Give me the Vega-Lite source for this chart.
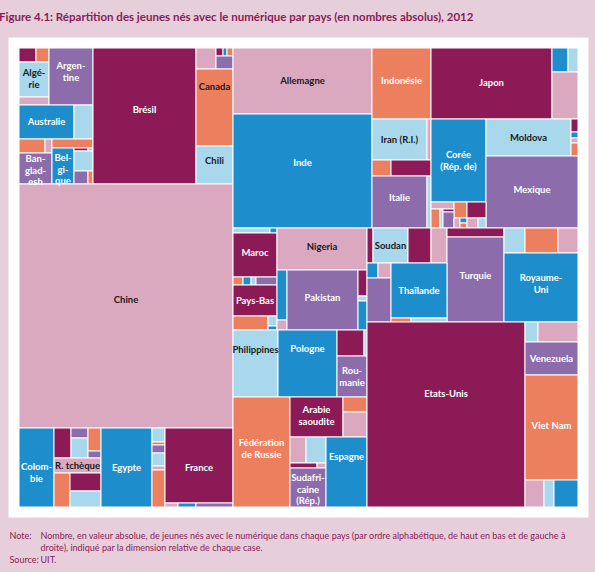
{
  "$schema": "https://vega.github.io/schema/vega-lite/v6.json",
  "width": 559,
  "height": 459,
  "autosize": {"type": "none"},
  "padding": {"left": 19, "top": 48, "right": 17, "bottom": 65},
  "background": "#e6cfdb",
  "view": {"fill": "white", "stroke": "white", "strokeWidth": 21},
  "title": {
    "text": "Figure 4.1: Répartition des jeunes nés avec le numérique par pays (en nombres absolus), 2012",
    "anchor": "start",
    "dx": -10,
    "offset": 24,
    "font": "Lato",
    "fontSize": 11.5,
    "fontWeight": "bold",
    "color": "#8b1a56"
  },
  "config": {
    "axis": {"domain": false, "ticks": false, "labels": false, "grid": false,
      "titleFont": "Lato", "titleFontSize": 9, "titleFontWeight": "normal", "titleColor": "#8b1a56",
      "titleAngle": 0, "titleAlign": "left", "titleBaseline": "alphabetic", "titleLineHeight": 12}
  },
  "data": {"values": [
    {"pays":"Autre","teinte":"M","x0":19,"x1":36,"y0":48,"y1":62,"label":""},
    {"pays":"Autre","teinte":"O","x0":36,"x1":49,"y0":48,"y1":62,"label":""},
    {"pays":"Algérie","teinte":"LB","x0":19,"x1":49,"y0":62,"y1":97,"label":"Algé-\nrie","ly":73},
    {"pays":"Autre","teinte":"LP","x0":19,"x1":49,"y0":97,"y1":105,"label":""},
    {"pays":"Argentine","teinte":"P","x0":49,"x1":93,"y0":48,"y1":105,"label":"Argen-\ntine","ly":66},
    {"pays":"Australie","teinte":"B","x0":19,"x1":74,"y0":105,"y1":139,"label":"Australie"},
    {"pays":"Autre","teinte":"LB","x0":74,"x1":93,"y0":105,"y1":139,"label":""},
    {"pays":"Autre","teinte":"O","x0":19,"x1":45,"y0":139,"y1":153,"label":""},
    {"pays":"Autre","teinte":"LP","x0":45,"x1":52,"y0":139,"y1":153,"label":""},
    {"pays":"Autre","teinte":"O","x0":52,"x1":93,"y0":139,"y1":148,"label":""},
    {"pays":"Bangladesh","teinte":"P","x0":19,"x1":52,"y0":153,"y1":184,"label":"Ban-\nglad-\nesh","ly":159},
    {"pays":"Belgique","teinte":"B","x0":52,"x1":74,"y0":148,"y1":184,"label":"Bel-\ngi-\nque","ly":158},
    {"pays":"Autre","teinte":"M","x0":74,"x1":88,"y0":148,"y1":151,"label":""},
    {"pays":"Autre","teinte":"LP","x0":88,"x1":93,"y0":148,"y1":151,"label":""},
    {"pays":"Autre","teinte":"LB","x0":74,"x1":93,"y0":151,"y1":171,"label":""},
    {"pays":"Autre","teinte":"P","x0":74,"x1":88,"y0":171,"y1":184,"label":""},
    {"pays":"Autre","teinte":"O","x0":88,"x1":93,"y0":171,"y1":184,"label":""},
    {"pays":"Brésil","teinte":"M","x0":93,"x1":196,"y0":48,"y1":184,"label":"Brésil","ly":110},
    {"pays":"Autre","teinte":"LP","x0":196,"x1":216,"y0":48,"y1":69,"label":""},
    {"pays":"Autre","teinte":"M","x0":216,"x1":223,"y0":48,"y1":56,"label":""},
    {"pays":"Autre","teinte":"B","x0":223,"x1":227,"y0":48,"y1":56,"label":""},
    {"pays":"Autre","teinte":"O","x0":227,"x1":233,"y0":48,"y1":56,"label":""},
    {"pays":"Autre","teinte":"P","x0":216,"x1":233,"y0":56,"y1":69,"label":""},
    {"pays":"Canada","teinte":"O","x0":196,"x1":233,"y0":69,"y1":146,"label":"Canada","ly":87},
    {"pays":"Chili","teinte":"LB","x0":196,"x1":233,"y0":146,"y1":184,"label":"Chili","ly":161},
    {"pays":"Chine","teinte":"LP","x0":19,"x1":233,"y0":184,"y1":428,"label":"Chine","ly":300},
    {"pays":"Colombie","teinte":"B","x0":19,"x1":54,"y0":428,"y1":507,"label":"Colom-\nbie","ly":467},
    {"pays":"Autre","teinte":"M","x0":54,"x1":71,"y0":428,"y1":458,"label":""},
    {"pays":"Autre","teinte":"P","x0":71,"x1":88,"y0":428,"y1":438,"label":""},
    {"pays":"Autre","teinte":"LB","x0":71,"x1":88,"y0":438,"y1":458,"label":""},
    {"pays":"Autre","teinte":"O","x0":88,"x1":101,"y0":428,"y1":451,"label":""},
    {"pays":"Autre","teinte":"P","x0":88,"x1":101,"y0":451,"y1":458,"label":""},
    {"pays":"R. tchèque","teinte":"LP","x0":54,"x1":101,"y0":458,"y1":473,"label":"R. tchèque"},
    {"pays":"Autre","teinte":"O","x0":54,"x1":70,"y0":473,"y1":507,"label":""},
    {"pays":"Autre","teinte":"M","x0":70,"x1":101,"y0":473,"y1":491,"label":""},
    {"pays":"Autre","teinte":"LB","x0":70,"x1":101,"y0":491,"y1":507,"label":""},
    {"pays":"Egypte","teinte":"B","x0":101,"x1":152,"y0":428,"y1":507,"label":"Egypte"},
    {"pays":"Autre","teinte":"LB","x0":152,"x1":165,"y0":428,"y1":442,"label":""},
    {"pays":"Autre","teinte":"O","x0":152,"x1":165,"y0":442,"y1":445,"label":""},
    {"pays":"Autre","teinte":"P","x0":152,"x1":165,"y0":445,"y1":453,"label":""},
    {"pays":"Autre","teinte":"LB","x0":152,"x1":165,"y0":453,"y1":466,"label":""},
    {"pays":"Autre","teinte":"LP","x0":152,"x1":165,"y0":466,"y1":470,"label":""},
    {"pays":"Autre","teinte":"O","x0":152,"x1":165,"y0":470,"y1":507,"label":""},
    {"pays":"France","teinte":"M","x0":165,"x1":233,"y0":428,"y1":503,"label":"France","ly":468},
    {"pays":"Autre","teinte":"LP","x0":165,"x1":178,"y0":503,"y1":507,"label":""},
    {"pays":"Autre","teinte":"B","x0":178,"x1":196,"y0":503,"y1":507,"label":""},
    {"pays":"Autre","teinte":"P","x0":196,"x1":233,"y0":503,"y1":507,"label":""},
    {"pays":"Allemagne","teinte":"LP","x0":233,"x1":372,"y0":48,"y1":114,"label":"Allemagne"},
    {"pays":"Inde","teinte":"B","x0":233,"x1":372,"y0":114,"y1":228,"label":"Inde","ly":163},
    {"pays":"Autre","teinte":"LB","x0":233,"x1":270,"y0":228,"y1":233,"label":""},
    {"pays":"Autre","teinte":"B","x0":270,"x1":277,"y0":228,"y1":233,"label":""},
    {"pays":"Maroc","teinte":"M","x0":233,"x1":277,"y0":233,"y1":277,"label":"Maroc","ly":253},
    {"pays":"Autre","teinte":"O","x0":233,"x1":243,"y0":277,"y1":285,"label":""},
    {"pays":"Autre","teinte":"B","x0":243,"x1":251,"y0":277,"y1":285,"label":""},
    {"pays":"Autre","teinte":"LB","x0":251,"x1":256,"y0":277,"y1":285,"label":""},
    {"pays":"Autre","teinte":"P","x0":256,"x1":277,"y0":277,"y1":285,"label":""},
    {"pays":"Pays-Bas","teinte":"M","x0":233,"x1":277,"y0":285,"y1":316,"label":"Pays-Bas"},
    {"pays":"Autre","teinte":"O","x0":233,"x1":268,"y0":316,"y1":330,"label":""},
    {"pays":"Autre","teinte":"LB","x0":268,"x1":277,"y0":316,"y1":326,"label":""},
    {"pays":"Autre","teinte":"B","x0":268,"x1":277,"y0":326,"y1":330,"label":""},
    {"pays":"Philippines","teinte":"LB","x0":233,"x1":278,"y0":330,"y1":397,"label":"Philippines","ly":350},
    {"pays":"Nigeria","teinte":"LP","x0":277,"x1":367,"y0":228,"y1":270,"label":"Nigeria","ly":247},
    {"pays":"Autre","teinte":"B","x0":277,"x1":287,"y0":270,"y1":320,"label":""},
    {"pays":"Autre","teinte":"LP","x0":277,"x1":287,"y0":320,"y1":330,"label":""},
    {"pays":"Pakistan","teinte":"P","x0":287,"x1":358,"y0":270,"y1":330,"label":"Pakistan","ly":298},
    {"pays":"Autre","teinte":"M","x0":358,"x1":367,"y0":270,"y1":296,"label":""},
    {"pays":"Autre","teinte":"LB","x0":358,"x1":367,"y0":296,"y1":301,"label":""},
    {"pays":"Autre","teinte":"B","x0":358,"x1":367,"y0":301,"y1":330,"label":""},
    {"pays":"Pologne","teinte":"B","x0":278,"x1":337,"y0":330,"y1":397,"label":"Pologne","ly":349},
    {"pays":"Autre","teinte":"M","x0":337,"x1":364,"y0":330,"y1":356,"label":""},
    {"pays":"Autre","teinte":"LB","x0":364,"x1":367,"y0":330,"y1":356,"label":""},
    {"pays":"Roumanie","teinte":"P","x0":337,"x1":367,"y0":356,"y1":397,"label":"Rou-\nmanie","ly":371},
    {"pays":"Fédération de Russie","teinte":"O","x0":233,"x1":290,"y0":397,"y1":507,"label":"Fédération\nde Russie","ly":443},
    {"pays":"Arabie saoudite","teinte":"M","x0":290,"x1":343,"y0":397,"y1":437,"label":"Arabie\nsaoudite","ly":410},
    {"pays":"Autre","teinte":"O","x0":343,"x1":367,"y0":397,"y1":412,"label":""},
    {"pays":"Autre","teinte":"LP","x0":343,"x1":367,"y0":412,"y1":437,"label":""},
    {"pays":"Autre","teinte":"LP","x0":290,"x1":306,"y0":437,"y1":463,"label":""},
    {"pays":"Autre","teinte":"LB","x0":306,"x1":326,"y0":437,"y1":463,"label":""},
    {"pays":"Autre","teinte":"M","x0":290,"x1":317,"y0":463,"y1":468,"label":""},
    {"pays":"Autre","teinte":"LP","x0":317,"x1":326,"y0":463,"y1":468,"label":""},
    {"pays":"Sudafricaine (Rép.)","teinte":"P","x0":290,"x1":326,"y0":468,"y1":507,"label":"Sudafri-\ncaine\n(Rép.)","ly":478},
    {"pays":"Espagne","teinte":"B","x0":326,"x1":367,"y0":437,"y1":507,"label":"Espagne","ly":457},
    {"pays":"Indonésie","teinte":"O","x0":372,"x1":431,"y0":48,"y1":119,"label":"Indonésie","ly":81},
    {"pays":"Japon","teinte":"M","x0":431,"x1":552,"y0":48,"y1":119,"label":"Japon","ly":83},
    {"pays":"Autre","teinte":"B","x0":552,"x1":568,"y0":48,"y1":72,"label":""},
    {"pays":"Autre","teinte":"LB","x0":568,"x1":578,"y0":48,"y1":72,"label":""},
    {"pays":"Autre","teinte":"LP","x0":552,"x1":578,"y0":72,"y1":119,"label":""},
    {"pays":"Iran (R.I.)","teinte":"LB","x0":372,"x1":427,"y0":119,"y1":160,"label":"Iran (R.I.)"},
    {"pays":"Autre","teinte":"LP","x0":427,"x1":431,"y0":119,"y1":160,"label":""},
    {"pays":"Autre","teinte":"O","x0":372,"x1":391,"y0":160,"y1":176,"label":""},
    {"pays":"Autre","teinte":"M","x0":391,"x1":431,"y0":160,"y1":176,"label":""},
    {"pays":"Italie","teinte":"P","x0":372,"x1":427,"y0":176,"y1":228,"label":"Italie","ly":198},
    {"pays":"Autre","teinte":"LB","x0":427,"x1":431,"y0":176,"y1":228,"label":""},
    {"pays":"Corée (Rép. de)","teinte":"B","x0":431,"x1":486,"y0":119,"y1":202,"label":"Corée\n(Rép. de)","ly":155},
    {"pays":"Moldova","teinte":"LB","x0":486,"x1":571,"y0":119,"y1":156,"label":"Moldova","ly":138},
    {"pays":"Autre","teinte":"M","x0":571,"x1":578,"y0":119,"y1":132,"label":""},
    {"pays":"Autre","teinte":"B","x0":571,"x1":578,"y0":132,"y1":138,"label":""},
    {"pays":"Autre","teinte":"LP","x0":571,"x1":578,"y0":138,"y1":143,"label":""},
    {"pays":"Autre","teinte":"O","x0":571,"x1":578,"y0":143,"y1":156,"label":""},
    {"pays":"Mexique","teinte":"P","x0":486,"x1":578,"y0":156,"y1":228,"label":"Mexique","ly":190},
    {"pays":"Autre","teinte":"LP","x0":431,"x1":454,"y0":202,"y1":209,"label":""},
    {"pays":"Autre","teinte":"O","x0":454,"x1":467,"y0":202,"y1":218,"label":""},
    {"pays":"Autre","teinte":"M","x0":467,"x1":486,"y0":202,"y1":218,"label":""},
    {"pays":"Autre","teinte":"O","x0":431,"x1":440,"y0":209,"y1":228,"label":""},
    {"pays":"Autre","teinte":"LB","x0":440,"x1":443,"y0":209,"y1":228,"label":""},
    {"pays":"Autre","teinte":"M","x0":443,"x1":454,"y0":209,"y1":212,"label":""},
    {"pays":"Autre","teinte":"P","x0":443,"x1":454,"y0":212,"y1":228,"label":""},
    {"pays":"Autre","teinte":"LP","x0":454,"x1":460,"y0":218,"y1":228,"label":""},
    {"pays":"Autre","teinte":"B","x0":460,"x1":467,"y0":218,"y1":223,"label":""},
    {"pays":"Autre","teinte":"O","x0":460,"x1":467,"y0":223,"y1":228,"label":""},
    {"pays":"Autre","teinte":"LP","x0":467,"x1":478,"y0":218,"y1":228,"label":""},
    {"pays":"Autre","teinte":"LB","x0":478,"x1":486,"y0":218,"y1":228,"label":""},
    {"pays":"Autre","teinte":"M","x0":367,"x1":373,"y0":228,"y1":263,"label":""},
    {"pays":"Soudan","teinte":"LB","x0":373,"x1":408,"y0":228,"y1":263,"label":"Soudan"},
    {"pays":"Autre","teinte":"M","x0":408,"x1":431,"y0":228,"y1":263,"label":""},
    {"pays":"Autre","teinte":"LP","x0":431,"x1":447,"y0":228,"y1":263,"label":""},
    {"pays":"Autre","teinte":"M","x0":447,"x1":504,"y0":228,"y1":237,"label":""},
    {"pays":"Turquie","teinte":"P","x0":447,"x1":504,"y0":237,"y1":322,"label":"Turquie","ly":276},
    {"pays":"Autre","teinte":"LB","x0":504,"x1":525,"y0":228,"y1":253,"label":""},
    {"pays":"Autre","teinte":"O","x0":525,"x1":558,"y0":228,"y1":253,"label":""},
    {"pays":"Autre","teinte":"LP","x0":558,"x1":578,"y0":228,"y1":253,"label":""},
    {"pays":"Royaume-Uni","teinte":"B","x0":504,"x1":578,"y0":253,"y1":322,"label":"Royaume-\nUni","ly":278},
    {"pays":"Autre","teinte":"B","x0":367,"x1":378,"y0":263,"y1":278,"label":""},
    {"pays":"Autre","teinte":"LP","x0":378,"x1":391,"y0":263,"y1":278,"label":""},
    {"pays":"Autre","teinte":"P","x0":367,"x1":391,"y0":278,"y1":322,"label":""},
    {"pays":"Thaïlande","teinte":"B","x0":391,"x1":447,"y0":263,"y1":318,"label":"Thaïlande"},
    {"pays":"Autre","teinte":"O","x0":391,"x1":411,"y0":318,"y1":322,"label":""},
    {"pays":"Autre","teinte":"LB","x0":411,"x1":447,"y0":318,"y1":322,"label":""},
    {"pays":"Etats-Unis","teinte":"M","x0":367,"x1":525,"y0":322,"y1":507,"label":"Etats-Unis","ly":394},
    {"pays":"Autre","teinte":"LB","x0":525,"x1":538,"y0":322,"y1":342,"label":""},
    {"pays":"Autre","teinte":"LP","x0":538,"x1":578,"y0":322,"y1":342,"label":""},
    {"pays":"Venezuela","teinte":"P","x0":525,"x1":578,"y0":342,"y1":375,"label":"Venezuela"},
    {"pays":"Viet Nam","teinte":"O","x0":525,"x1":578,"y0":375,"y1":480,"label":"Viet Nam","ly":426},
    {"pays":"Autre","teinte":"LP","x0":525,"x1":544,"y0":480,"y1":507,"label":""},
    {"pays":"Autre","teinte":"LB","x0":544,"x1":554,"y0":480,"y1":507,"label":""},
    {"pays":"Autre","teinte":"B","x0":554,"x1":578,"y0":480,"y1":507,"label":""}
  ]},
  "layer": [
    {
      "mark": {"type": "rect", "stroke": "white", "strokeWidth": 1},
      "encoding": {
        "x": {"field": "x0", "type": "quantitative",
          "scale": {"domain": [19, 578], "nice": false, "zero": false},
          "axis": {"title": ["Nombre, en valeur absolue, de jeunes nés avec le numérique dans chaque pays (par ordre alphabétique, de haut en bas et de gauche à", "droite), indiqué par la dimension relative de chaque case.", "UIT."],
            "titleX": 21, "titleY": 31}},
        "x2": {"field": "x1"},
        "y": {"field": "y0", "type": "quantitative",
          "scale": {"domain": [48, 507], "nice": false, "zero": false, "reverse": true},
          "axis": {"title": ["Note:", "Source:"], "titleX": -10, "titleY": 490, "titleLineHeight": 24}},
        "y2": {"field": "y1"},
        "color": {"field": "teinte", "type": "nominal", "legend": null,
          "scale": {"domain": ["M", "O", "LB", "B", "P", "LP"],
            "range": ["#8b1a56", "#ec7f5e", "#a9d8ec", "#1d8dcb", "#8c6cab", "#dba9bf"]}}
      }
    },
    {
      "transform": [
        {"filter": "datum.label != ''"},
        {"calculate": "(datum.x0 + datum.x1) / 2", "as": "cx"},
        {"calculate": "isValid(datum.ly) ? datum.ly : (datum.y0 + datum.y1) / 2", "as": "cy"}
      ],
      "mark": {"type": "text", "font": "Lato", "fontSize": 9.5, "fontWeight": "bold", "lineBreak": "\n", "lineHeight": 11.5, "align": "center", "baseline": "middle"},
      "encoding": {
        "x": {"field": "cx", "type": "quantitative",
          "axis": {"title": ["Nombre, en valeur absolue, de jeunes nés avec le numérique dans chaque pays (par ordre alphabétique, de haut en bas et de gauche à", "droite), indiqué par la dimension relative de chaque case.", "UIT."],
            "titleX": 21, "titleY": 31}},
        "y": {"field": "cy", "type": "quantitative",
          "axis": {"title": ["Note:", "Source:"], "titleX": -10, "titleY": 490, "titleLineHeight": 24}},
        "text": {"field": "label"},
        "color": {"condition": {"test": "datum.teinte == 'LB' || datum.teinte == 'LP' || datum.label == 'Canada'", "value": "#1a1a1a"}, "value": "white"}
      }
    }
  ]
}
